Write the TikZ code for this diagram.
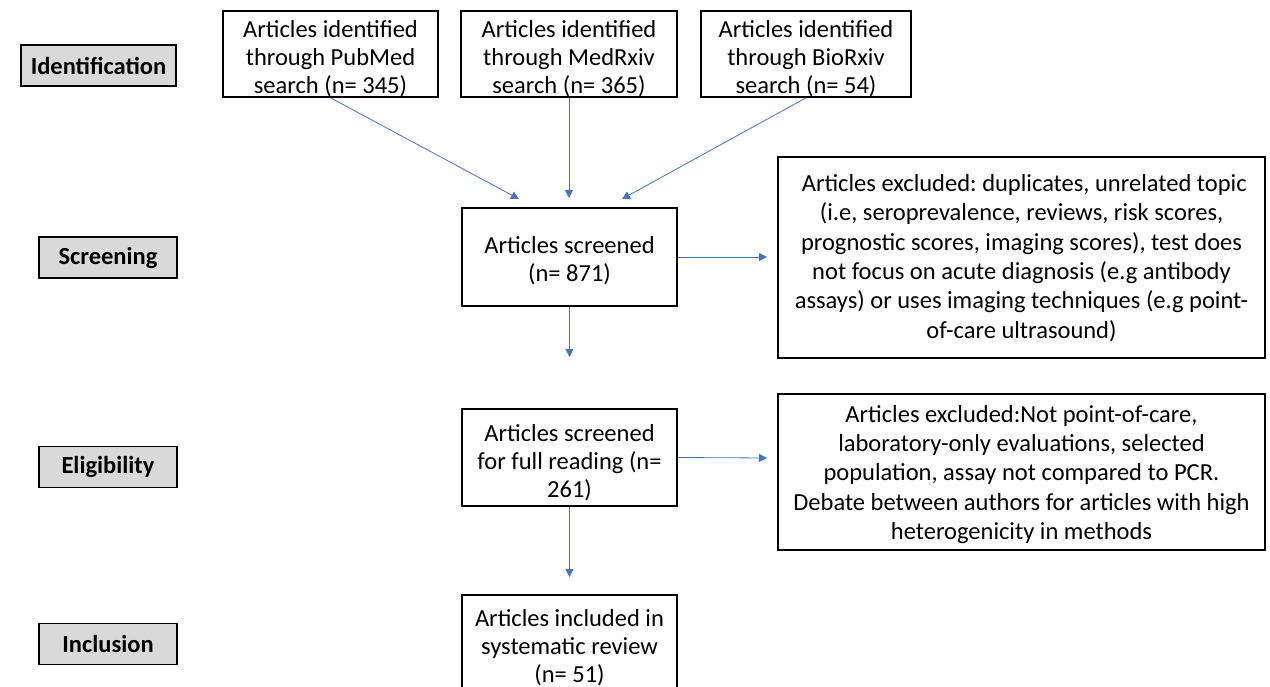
\documentclass[tikz,border=0pt]{standalone}
\usepackage{fontspec}
\setmainfont{Carlito}
\usetikzlibrary{arrows.meta}
\definecolor{arrowblue}{HTML}{4472C4}
\definecolor{labelgray}{HTML}{D9D9D9}
\frenchspacing
\begin{document}
\begin{tikzpicture}[x=1pt,y=-1pt,
  box/.style={draw=black,line width=1.6pt,inner sep=0pt},
  txt/.style={inner sep=0pt,align=center,font=\fontsize{24.5}{28}\selectfont},
  wide/.style={inner sep=0pt,align=center,font=\fontsize{24.5}{29.3}\selectfont},
  stage/.style={draw=black,fill=labelgray,line width=1.4pt,inner sep=0pt,
    minimum width=138pt,minimum height=41pt,font=\fontsize{24.5}{29}\selectfont\bfseries},
  conn/.style={draw=arrowblue,line width=0.8pt,-{Triangle[length=8pt,width=8pt]}}]
\useasboundingbox (0,0) rectangle (1270,687);
% stage labels
\node[stage,minimum width=155pt] (ident) at (98.5,65.5) {Identification};
\node[stage] (screen) at (108,257.5) {Screening};
\node[stage] (elig) at (108,467) {Eligibility};
\node[stage] (incl) at (108,644) {Inclusion};
% source boxes
\node[box,minimum width=215pt,minimum height=86pt] (pubmed) at (330.5,54) {};
\node[txt] (pubmedtext) at (330.5,59) {Articles identified\\through PubMed\\search (n= 345)};
\node[box,minimum width=216pt,minimum height=86pt] (medrxiv) at (569,54) {};
\node[txt] (medrxivtext) at (569,59) {Articles identified\\through MedRxiv\\search (n= 365)};
\node[box,minimum width=210pt,minimum height=86pt] (biorxiv) at (806,54) {};
\node[txt] (biorxivtext) at (806,59) {Articles identified\\through BioRxiv\\search (n= 54)};
% screening
\node[box,minimum width=215pt,minimum height=98pt] (screened) at (569.5,257) {};
\node[txt] (screenedtext) at (569.5,261) {Articles screened\\(n= 871)};
\node[box,minimum width=487pt,minimum height=201pt] (excl1) at (1021.5,257.5) {};
\node[wide] (excl1text) at (1021.5,258) {\ Articles excluded: duplicates, unrelated topic\\(i.e, seroprevalence, reviews, risk scores,\\prognostic scores, imaging scores), test does\\not focus on acute diagnosis (e.g antibody\\assays) or uses imaging techniques (e.g point-\\of-care ultrasound)};
% eligibility
\node[box,minimum width=215pt,minimum height=97pt] (fullread) at (569.5,457.5) {};
\node[txt] (fullreadtext) at (569.5,462.5) {Articles screened\\for full reading (n=\\261)};
\node[box,minimum width=487pt,minimum height=156pt] (excl2) at (1021.5,472) {};
\node[wide] (excl2text) at (1021.5,474.5) {Articles excluded:Not point-of-care,\\laboratory-only evaluations, selected\\population, assay not compared to PCR.\\Debate between authors for articles with high\\heterogenicity in methods};
% inclusion
\node[box,minimum width=215pt,minimum height=100pt] (included) at (569.5,645) {};
\node[txt] (includedtext) at (569.5,647.5) {Articles included in\\systematic review\\(n= 51)};
% arrow ends
\coordinate (t1) at (519,199);
\coordinate (t2) at (569,198);
\coordinate (t3) at (622,199);
\coordinate (t4) at (767,257);
\coordinate (t5) at (569.5,357);
\coordinate (t6) at (767,458);
\coordinate (t7) at (569.5,577);
\draw[conn] (pubmed.south) -- (t1);
\draw[conn] (medrxiv.south) -- (t2);
\draw[conn] (biorxiv.south) -- (t3);
\draw[conn] (screened.east) -- (t4);
\draw[conn] (screened.south) -- (t5);
\draw[conn] (fullread.east) -- (t6);
\draw[conn] (fullread.south) -- (t7);
\end{tikzpicture}
\end{document}
